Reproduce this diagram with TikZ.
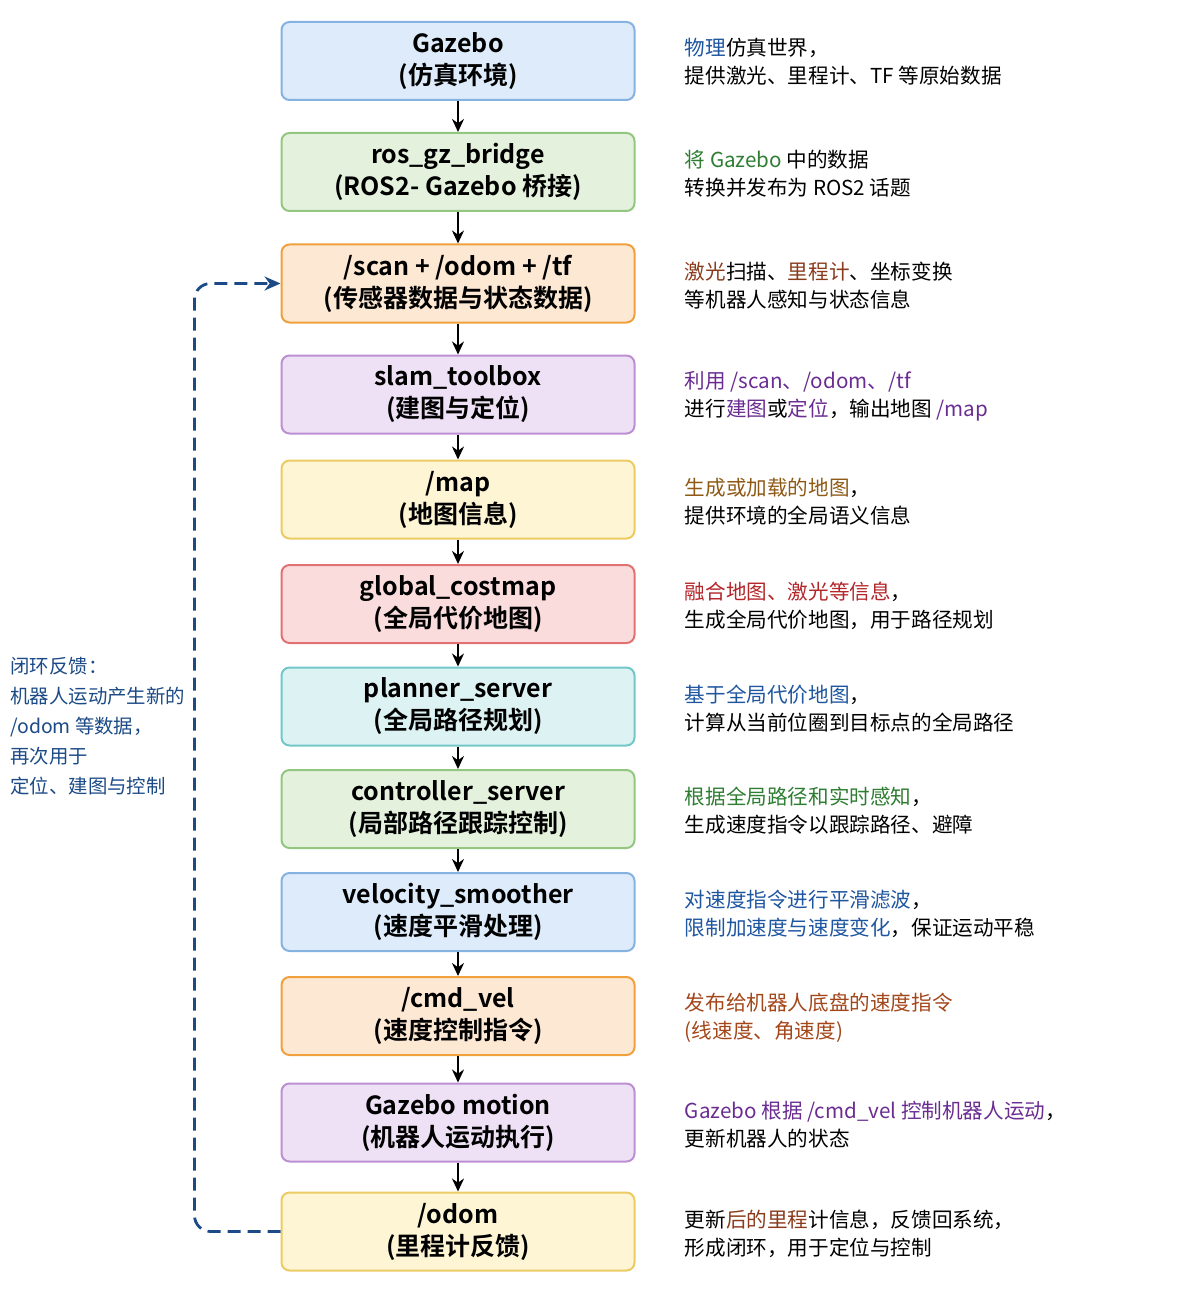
\documentclass[tikz,border=0pt]{standalone}
\usepackage{fontspec}
\setmainfont{Noto Sans CJK SC}[BoldFont={Noto Sans CJK SC Bold}]
\usetikzlibrary{arrows.meta,positioning}

\definecolor{blueFill}{HTML}{DDEBFA}
\definecolor{blueLine}{HTML}{86B2E2}
\definecolor{greenFill}{HTML}{E4F2DD}
\definecolor{greenLine}{HTML}{93C680}
\definecolor{orangeFill}{HTML}{FDE8D4}
\definecolor{orangeLine}{HTML}{F0A03C}
\definecolor{purpleFill}{HTML}{EEE1F5}
\definecolor{purpleLine}{HTML}{BC90D2}
\definecolor{yellowFill}{HTML}{FEF5D5}
\definecolor{yellowLine}{HTML}{EBCB62}
\definecolor{redFill}{HTML}{FADCDC}
\definecolor{redLine}{HTML}{E27272}
\definecolor{cyanFill}{HTML}{DDF2F2}
\definecolor{cyanLine}{HTML}{72C7C8}

\definecolor{noteBlue}{HTML}{1F56A0}
\definecolor{noteGreen}{HTML}{2E7D32}
\definecolor{noteBrown}{HTML}{8A3B1C}
\definecolor{notePurple}{HTML}{6A2C91}
\definecolor{noteGold}{HTML}{8E5A16}
\definecolor{noteRed}{HTML}{B3262A}
\definecolor{noteOrange}{HTML}{A3471B}
\definecolor{loopBlue}{HTML}{1B4A86}

\begin{document}
\begin{tikzpicture}[
    x=0.5pt, y=-0.5pt,
    stage/.style={rectangle, rounded corners=4pt, minimum width=176.5pt, minimum height=39pt, inner sep=0pt, align=center, font=\fontsize{12.5pt}{16pt}\selectfont\bfseries, line width=1pt},
    note/.style={anchor=west, align=left, inner sep=0pt, font=\fontsize{10.3pt}{14pt}\selectfont},
    arrow/.style={-{Stealth[length=6.5pt,width=6pt]}, line width=1pt},
    feedback/.style={-{Stealth[length=8pt,width=7pt]}, loopBlue, line width=1.4pt, dash pattern=on 6.5pt off 3.5pt, rounded corners=8pt}
]
    \useasboundingbox (0,0) rectangle (1195,1316);

    % pipeline stages
    \node[stage, fill=blueFill, draw=blueLine] (gazebo) at (458,61) {Gazebo\\(仿真环境)};
    \node[stage, fill=greenFill, draw=greenLine] (bridge) at (458,172) {ros\_gz\_bridge\\(ROS2- Gazebo 桥接)};
    \node[stage, fill=orangeFill, draw=orangeLine] (scan) at (458,283.5) {/scan + /odom + /tf\\(传感器数据与状态数据)};
    \node[stage, fill=purpleFill, draw=purpleLine] (slam) at (458,394.5) {slam\_toolbox\\(建图与定位)};
    \node[stage, fill=yellowFill, draw=yellowLine] (map) at (458,499.5) {/map\\(地图信息)};
    \node[stage, fill=redFill, draw=redLine] (costmap) at (458,604) {global\_costmap\\(全局代价地图)};
    \node[stage, fill=cyanFill, draw=cyanLine] (planner) at (458,706.5) {planner\_server\\(全局路径规划)};
    \node[stage, fill=greenFill, draw=greenLine] (controller) at (458,809) {controller\_server\\(局部路径跟踪控制)};
    \node[stage, fill=blueFill, draw=blueLine] (smoother) at (458,912) {velocity\_smoother\\(速度平滑处理)};
    \node[stage, fill=orangeFill, draw=orangeLine] (cmdvel) at (458,1016) {/cmd\_vel\\(速度控制指令)};
    \node[stage, fill=purpleFill, draw=purpleLine] (motion) at (458,1122.5) {Gazebo motion\\(机器人运动执行)};
    \node[stage, fill=yellowFill, draw=yellowLine] (odom) at (458,1231.5) {/odom\\(里程计反馈)};

    % notes on the right
    \node[note] (gazeboNote) at ([xshift=24.5pt,yshift=-0.5pt]gazebo.east) {\textcolor{noteBlue}{物理}仿真世界，\\提供激光、里程计、TF 等原始数据};
    \node[note] (bridgeNote) at ([xshift=24.5pt,yshift=-1pt]bridge.east) {\textcolor{noteGreen}{将 Gazebo} 中的数据\\转换并发布为 ROS2 话题};
    \node[note] (scanNote) at ([xshift=24.5pt,yshift=-1pt]scan.east) {\textcolor{noteBrown}{激光}扫描、\textcolor{noteBrown}{里程计}、坐标变换\\等机器人感知与状态信息};
    \node[note] (slamNote) at ([xshift=24.5pt,yshift=-1pt]slam.east) {\textcolor{notePurple}{利用 /scan、/odom、/tf}\\进行\textcolor{notePurple}{建图}或\textcolor{notePurple}{定位}，输出地图 \textcolor{notePurple}{/map}};
    \node[note] (mapNote) at ([xshift=24.5pt,yshift=-1pt]map.east) {\textcolor{noteGold}{生成或加载的地图}，\\提供环境的全局语义信息};
    \node[note] (costmapNote) at ([xshift=24.5pt,yshift=-1pt]costmap.east) {\textcolor{noteRed}{融合地图、激光等信息}，\\生成全局代价地图，用于路径规划};
    \node[note] (plannerNote) at ([xshift=24.5pt,yshift=-1pt]planner.east) {\textcolor{noteBlue}{基于全局代价地图}，\\计算从当前位圈到目标点的全局路径};
    \node[note] (controllerNote) at ([xshift=24.5pt,yshift=-1pt]controller.east) {\textcolor{noteGreen}{根据全局路径和实时感知}，\\生成速度指令以跟踪路径、避障};
    \node[note] (smootherNote) at ([xshift=24.5pt,yshift=-1pt]smoother.east) {\textcolor{noteBlue}{对速度指令进行平滑滤波}，\\\textcolor{noteBlue}{限制加速度与速度变化}，保证运动平稳};
    \node[note, text=noteOrange] (cmdvelNote) at ([xshift=24.5pt,yshift=-1pt]cmdvel.east) {发布给机器人底盘的速度指令\\(线速度、角速度)};
    \node[note] (motionNote) at ([xshift=24.5pt,yshift=-1pt]motion.east) {\textcolor{notePurple}{Gazebo 根据 /cmd\_vel 控制机器人运动}，\\更新机器人的状态};
    \node[note] (odomNote) at ([xshift=24.5pt,yshift=-1pt]odom.east) {更新\textcolor{noteBrown}{后的里程}计信息，反馈回系统，\\形成闭环，用于定位与控制};

    % feedback note on the left
    \node[note, text=loopBlue, font=\fontsize{9.7pt}{15pt}\selectfont] (loopNote) at (10,726) {闭环反馈：\\机器人运动产生新的\\/odom 等数据，\\再次用于\\定位、建图与控制};

    % arrows
    \draw[arrow] (gazebo) -- (bridge);
    \draw[arrow] (bridge) -- (scan);
    \draw[arrow] (scan) -- (slam);
    \draw[arrow] (slam) -- (map);
    \draw[arrow] (map) -- (costmap);
    \draw[arrow] (costmap) -- (planner);
    \draw[arrow] (planner) -- (controller);
    \draw[arrow] (controller) -- (smoother);
    \draw[arrow] (smoother) -- (cmdvel);
    \draw[arrow] (cmdvel) -- (motion);
    \draw[arrow] (motion) -- (odom);
    \draw[feedback] (odom.west) -- ++(-86,0) |- (scan.west);
\end{tikzpicture}
\end{document}
